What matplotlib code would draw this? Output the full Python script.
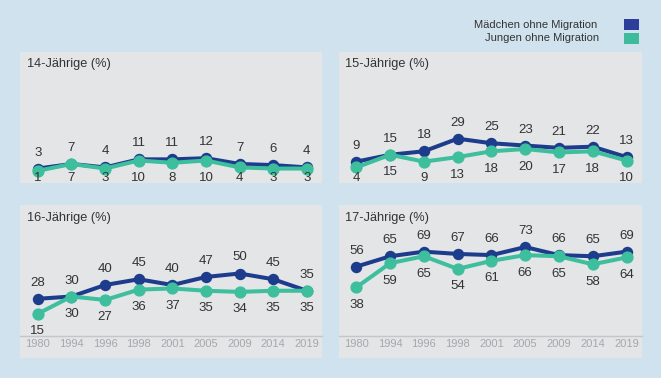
import matplotlib
matplotlib.use("Agg")
import matplotlib.pyplot as plt
from matplotlib.patches import Rectangle

plt.rcParams['font.family'] = ['Liberation Sans', 'DejaVu Sans']

years = ["1980", "1994", "1996", "1998", "2001", "2005", "2009", "2014", "2019"]
titles = ["14-Jährige (%)", "15-Jährige (%)", "16-Jährige (%)", "17-Jährige (%)"]
maedchen = [
    [3, 7, 4, 11, 11, 12, 7, 6, 4],
    [9, 15, 18, 29, 25, 23, 21, 22, 13],
    [28, 30, 40, 45, 40, 47, 50, 45, 35],
    [56, 65, 69, 67, 66, 73, 66, 65, 69],
]
jungen = [
    [1, 7, 3, 10, 8, 10, 4, 3, 3],
    [4, 15, 9, 13, 18, 20, 17, 18, 10],
    [15, 30, 27, 36, 37, 35, 34, 35, 35],
    [38, 59, 65, 54, 61, 66, 65, 58, 64],
]
legend_labels = ["Mädchen ohne Migration", "Jungen ohne Migration"]

BG = "#d0e2ee"
PANEL = "#e3e5e7"
BLUE = "#1d3c8c"
TEAL = "#3dbf9d"
LEG_BLUE = "#2b3f9b"
LEG_TEAL = "#3dbb9a"
TXT = "#333333"

W, H = 661, 378
fig = plt.figure(figsize=(W / 100, H / 100), dpi=100)
fig.patch.set_facecolor(BG)


def fx(x):
    return x / W


def fy(y):
    return 1 - y / H


PPU = 1.15  # pixels per data unit
panels = [
    dict(rect=(20, 51.5, 322, 183), ax_bottom=183, zero=172, row=0),
    dict(rect=(338.5, 51.5, 641.7, 183), ax_bottom=183, zero=172, row=0),
    dict(rect=(20, 205, 322, 358), ax_bottom=336, zero=331, row=1),
    dict(rect=(338.5, 205, 641.7, 358), ax_bottom=336, zero=331, row=1),
]

for i, p in enumerate(panels):
    l, t, r, b = p["rect"]
    fig.add_artist(Rectangle((fx(l), fy(b)), fx(r - l), (b - t) / H,
                             transform=fig.transFigure, facecolor=PANEL,
                             edgecolor="none", zorder=0))
    ab = p["ax_bottom"]
    ax = fig.add_axes([fx(l), fy(ab), fx(r - l), (ab - t) / H])
    ax.set_facecolor("none")
    ylow = -(ab - p["zero"]) / PPU
    yhigh = (p["zero"] - t) / PPU
    ax.set_ylim(ylow, yhigh)
    ax.set_xlim(-0.53, 8.45)
    x = list(range(len(years)))
    ax.plot(x, maedchen[i], color=BLUE, lw=2.9, marker="o", ms=7.2,
            solid_capstyle="round", zorder=3, clip_on=False)
    ax.plot(x, jungen[i], color=TEAL, lw=2.9, marker="o", ms=7.8,
            solid_capstyle="round", zorder=4, clip_on=False)
    up = 16 / PPU
    down = 17.5 / PPU
    clamp = (p["zero"] - 178) / PPU
    for xi, v in zip(x, maedchen[i]):
        ax.text(xi, v + up, str(v), ha="center", va="center",
                fontsize=9.5, color=TXT, zorder=5)
    for xi, v in zip(x, jungen[i]):
        yl = v - down
        if p["row"] == 0:
            yl = max(yl, clamp)
        ax.text(xi, yl, str(v), ha="center", va="center",
                fontsize=9.5, color=TXT, zorder=5)
    for s in ["top", "left", "right"]:
        ax.spines[s].set_visible(False)
    ax.set_yticks([])
    if p["row"] == 1:
        ax.spines["bottom"].set_color("#c4c6c8")
        ax.spines["bottom"].set_linewidth(1.0)
        ax.set_xticks(x)
        ax.set_xticklabels(years)
        ax.tick_params(axis="x", length=0, pad=2.5, labelsize=8,
                       labelcolor="#a5a7aa")
    else:
        ax.spines["bottom"].set_visible(False)
        ax.set_xticks([])
    fig.text(fx(l + 6.5), fy(t + 13), titles[i], fontsize=9.2, color=TXT,
             ha="left", va="center")

# legend
fig.text(fx(597), fy(25), legend_labels[0], fontsize=8, color=TXT,
         ha="right", va="center")
fig.text(fx(599.5), fy(37.7), legend_labels[1], fontsize=8, color=TXT,
         ha="right", va="center")
fig.add_artist(Rectangle((fx(623.5), fy(30)), fx(15.5), 11 / H,
                         transform=fig.transFigure, facecolor=LEG_BLUE,
                         edgecolor="none"))
fig.add_artist(Rectangle((fx(623.5), fy(44.3)), fx(15.5), 11 / H,
                         transform=fig.transFigure, facecolor=LEG_TEAL,
                         edgecolor="none"))

fig.savefig("out.png", dpi=100, facecolor=BG)
